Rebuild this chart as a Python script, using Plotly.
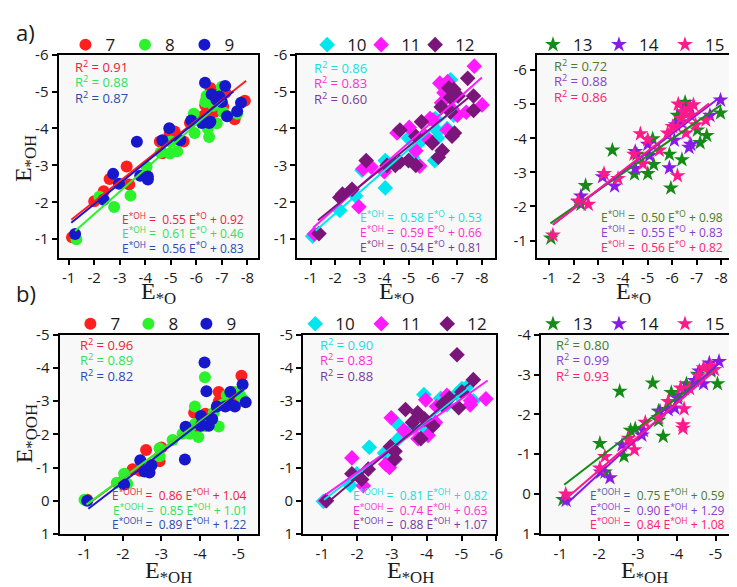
import plotly.graph_objects as go

# ---------------- data ----------------
# panel a-1 : E*OH vs E*O, groups 7, 8, 9
a7_x = [-1.13,-2.0,-2.37,-2.6,-3.27,-3.37,-4.57,-4.67,-4.96,-5.15,-5.5,-5.75,-5.9,-6.3,-6.35,-6.4,-6.55,-6.7,-6.94,-7.05,-7.14,-7.5,-7.9]
a7_y = [-1.05,-2.03,-2.3,-2.63,-2.97,-2.48,-3.65,-3.33,-3.87,-3.92,-3.65,-4.15,-4.28,-4.35,-4.63,-4.8,-5.1,-4.45,-4.97,-4.6,-4.97,-4.25,-4.75]
a8_x = [-1.3,-2.2,-2.78,-3.42,-4.05,-4.6,-4.96,-5.0,-5.25,-5.9,-5.93,-6.35,-6.4,-6.45,-6.5,-6.67,-6.8,-6.8,-7.0,-7.05,-7.6]
a8_y = [-1.0,-2.15,-1.87,-2.18,-2.96,-3.35,-3.32,-3.65,-3.38,-4.4,-3.88,-4.72,-4.88,-4.0,-3.77,-4.62,-4.14,-4.88,-5.13,-4.45,-4.4]
a9_x = [-1.25,-2.37,-2.74,-2.97,-3.67,-3.8,-4.1,-4.1,-4.67,-4.94,-5.37,-5.8,-6.22,-6.34,-6.5,-6.55,-6.6,-6.78,-6.9,-7.0,-7.13,-7.2,-7.6,-7.75]
a9_y = [-1.14,-2.07,-2.77,-2.5,-3.64,-2.72,-2.7,-2.62,-3.68,-4.01,-3.68,-4.22,-4.15,-5.24,-4.15,-4.18,-4.93,-4.78,-4.87,-4.72,-5.15,-4.33,-4.47,-4.7]
# panel a-2 : groups 10, 11, 12
a10_x = [-1.08,-2.19,-2.84,-3.1,-4.05,-4.05,-5.0,-5.16,-5.43,-6.07,-6.1,-6.18,-6.2,-6.58,-6.72,-6.85,-7.0]
a10_y = [-1.08,-1.78,-2.17,-2.87,-2.39,-3.13,-3.74,-3.22,-3.61,-3.13,-4.27,-3.74,-3.92,-4.0,-5.32,-4.36,-4.88]
a11_x = [-1.15,-2.97,-3.14,-3.47,-4.01,-4.53,-5.03,-5.3,-5.46,-5.7,-5.88,-6.0,-6.28,-6.35,-6.45,-6.58,-6.6,-6.78,-7.0,-7.36,-7.69,-8.01]
a11_y = [-1.14,-1.88,-2.91,-2.96,-2.83,-3.88,-4.03,-3.4,-2.98,-3.79,-4.27,-4.23,-5.23,-4.7,-4.97,-3.96,-5.27,-4.53,-4.36,-4.44,-5.69,-4.64]
a12_x = [-1.34,-2.19,-2.3,-2.69,-3.27,-4.12,-4.46,-4.65,-4.65,-5.0,-5.3,-5.3,-5.53,-5.97,-6.22,-6.34,-6.38,-6.65,-6.72,-6.72,-6.78,-6.85,-6.88,-7.03,-7.42,-7.66,-7.66]
a12_y = [-1.15,-2.13,-2.22,-2.35,-3.13,-3.0,-3.0,-3.96,-3.09,-3.13,-3.79,-3.0,-4.18,-3.61,-3.22,-4.58,-3.4,-5.1,-4.84,-4.45,-3.79,-5.06,-3.88,-4.88,-5.36,-4.88,-4.49]
# panel a-3 : groups 13, 14, 15
a13_x = [-1.07,-2.29,-2.48,-3.57,-4.47,-4.57,-5.01,-5.21,-5.25,-5.89,-5.95,-6.22,-6.4,-6.53,-7.03,-7.14,-7.41,-7.97]
a13_y = [-1.07,-2.06,-2.61,-3.65,-2.95,-3.53,-2.96,-3.98,-3.23,-3.53,-2.54,-4.67,-3.37,-5.05,-4.24,-3.87,-4.08,-4.74]
a14_x = [-2.18,-2.29,-3.17,-3.66,-4.5,-4.5,-5.01,-5.08,-5.89,-6.09,-6.15,-6.36,-6.42,-6.69,-6.73,-6.76,-7.54,-7.97]
a14_y = [-2.14,-2.3,-2.87,-2.6,-3.11,-3.61,-3.82,-3.49,-3.13,-3.94,-4.39,-4.48,-4.77,-3.73,-4.91,-3.82,-4.67,-5.12]
a15_x = [-1.15,-2.18,-2.59,-3.23,-3.8,-4.45,-4.71,-4.81,-5.01,-5.48,-5.82,-6.02,-6.22,-6.25,-6.36,-6.49,-6.56,-6.69,-6.76,-6.87,-6.96,-7.37]
a15_y = [-1.16,-2.16,-2.06,-2.96,-2.82,-3.53,-4.13,-3.25,-3.96,-3.65,-4.15,-4.34,-2.9,-5.0,-4.58,-4.77,-4.15,-4.86,-4.67,-4.98,-4.39,-4.53]
# panel b-1 : E*OOH vs E*OH, groups 7, 8, 9
b7_x = [-1.07,-2.0,-2.25,-2.44,-2.6,-2.95,-3.0,-3.63,-3.76,-3.85,-3.89,-4.14,-4.14,-4.21,-4.49,-4.49,-4.7,-4.83,-4.91,-5.08,-5.08]
b7_y = [-0.03,-0.58,-0.95,-0.9,-1.53,-1.19,-1.6,-2.21,-2.19,-2.65,-2.12,-2.62,-2.26,-2.5,-3.28,-2.99,-2.99,-3.28,-3.18,-3.77,-3.09]
b8_x = [-1.0,-1.84,-2.03,-2.11,-2.95,-2.95,-3.29,-3.55,-3.74,-3.87,-3.87,-3.96,-4.1,-4.13,-4.36,-4.49,-4.59,-4.7,-4.91,-5.04,-5.13]
b8_y = [-0.03,-0.54,-0.81,-0.51,-1.58,-1.34,-1.83,-2.02,-2.02,-2.84,-2.31,-1.92,-2.26,-3.72,-2.65,-2.24,-2.89,-3.18,-3.28,-3.18,-3.04]
b9_x = [-1.07,-2.03,-2.45,-2.56,-2.69,-2.74,-3.61,-3.63,-4.02,-4.03,-4.12,-4.17,-4.23,-4.32,-4.44,-4.66,-4.79,-4.81,-4.91,-5.11,-5.19]
b9_y = [0.0,-0.49,-1.22,-0.88,-0.85,-1.07,-1.24,-2.23,-2.26,-2.55,-4.17,-3.3,-2.26,-2.46,-2.84,-2.84,-3.28,-2.89,-2.84,-3.5,-2.97]
# panel b-2 : groups 10, 11, 12
b10_x = [-1.03,-1.8,-1.99,-2.35,-2.79,-3.09,-3.12,-3.19,-3.62,-3.92,-3.95,-4.4,-4.58,-4.87,-5.01,-5.15,-5.34]
b10_y = [0.02,-0.47,-0.81,-1.61,-1.44,-1.24,-2.36,-1.87,-2.21,-3.2,-2.17,-3.09,-2.89,-3.23,-3.38,-3.43,-3.01]
b11_x = [-1.09,-1.85,-2.18,-2.82,-2.93,-2.98,-3.34,-3.75,-3.97,-4.04,-4.25,-4.28,-4.49,-4.58,-5.25,-5.26,-5.7]
b11_y = [0.0,-1.29,-0.45,-1.1,-1.0,-2.5,-2.12,-1.87,-3.04,-1.97,-2.36,-2.84,-2.89,-3.18,-2.89,-3.01,-3.07]
b12_x = [-1.12,-1.85,-2.13,-2.32,-2.96,-3.08,-3.09,-3.39,-3.59,-3.74,-3.83,-3.94,-4.18,-4.44,-4.65,-4.87,-4.92,-5.01,-5.34]
b12_y = [0.0,-0.81,-0.64,-0.95,-1.63,-1.26,-1.49,-2.75,-2.36,-2.65,-1.87,-2.46,-2.26,-2.89,-3.09,-4.4,-2.8,-3.28,-3.65]
# panel b-3 : groups 13, 14, 15
b13_x = [-1.07,-2.02,-2.15,-2.53,-2.64,-2.81,-2.93,-3.38,-3.53,-3.53,-3.65,-3.86,-4.03,-4.25,-4.54,-4.88,-5.05]
b13_y = [0.14,-1.27,-0.55,-2.58,-0.95,-1.6,-1.64,-2.79,-2.08,-1.85,-1.45,-2.55,-2.48,-2.77,-3.01,-3.09,-2.77]
b14_x = [-1.15,-2.04,-2.28,-2.59,-3.1,-3.14,-3.57,-3.78,-3.95,-4.03,-4.2,-4.46,-4.58,-4.69,-4.84,-4.88,-5.09]
b14_y = [0.16,-0.55,-0.41,-1.23,-1.48,-1.6,-2.08,-2.12,-2.16,-2.4,-2.65,-2.85,-3.09,-2.77,-3.29,-3.13,-3.33]
b15_x = [-1.14,-2.02,-2.15,-2.76,-2.82,-2.91,-3.19,-3.53,-3.78,-4.1,-4.16,-4.16,-4.19,-4.33,-4.56,-4.69,-4.88,-4.97]
b15_y = [0.0,-0.65,-0.94,-1.4,-1.31,-1.11,-1.8,-1.92,-2.32,-2.66,-1.74,-1.65,-2.14,-2.65,-2.97,-3.17,-3.21,-3.13]

# fitted lines as drawn (slope, intercept, x start, x end)
a_slope = [0.55, 0.61, 0.56, 0.58, 0.59, 0.54, 0.50, 0.55, 0.56]
a_icept = [-0.92, -0.46, -0.83, -0.53, -0.66, -0.81, -0.98, -0.83, -0.82]
a_xstart = [-1.1, -1.25, -1.1, -1.2, -1.1, -1.3, -1.05, -1.15, -1.15]
a_xend = [-7.95, -7.1, -7.45, -7.0, -8.0, -7.7, -8.0, -7.95, -7.5]
b_slope = [0.86, 0.85, 0.89, 0.81, 0.74, 0.88, 0.75, 0.90, 0.84]
b_icept = [1.04, 1.01, 1.22, 0.82, 0.63, 1.07, 0.59, 1.29, 1.08]
b_xstart = [-1.1, -1.05, -1.1, -1.05, -1.1, -1.1, -1.1, -1.15, -1.1]
b_xend = [-5.1, -5.15, -5.15, -5.2, -5.75, -5.4, -5.0, -5.1, -5.0]

group_names = ["7", "8", "9", "10", "11", "12", "13", "14", "15"]
a_r2 = ["0.91", "0.88", "0.87", "0.86", "0.83", "0.60", "0.72", "0.88", "0.86"]
b_r2 = ["0.96", "0.89", "0.82", "0.90", "0.83", "0.88", "0.80", "0.99", "0.93"]

tick_x_top = [-1, -2, -3, -4, -5, -6, -7, -8]
tick_y_top = [-1, -2, -3, -4, -5, -6]
tick_x_b1 = [-1, -2, -3, -4, -5]
tick_x_b2 = [-1, -2, -3, -4, -5, -6]
tick_y_b12 = [1, 0, -1, -2, -3, -4, -5]
tick_y_b3 = [1, 0, -1, -2, -3, -4]

# ---------------- styles ----------------
marker_colors = ["#ff1f1f", "#2cf22c", "#1717cc", "#00e6ef", "#ff1aff", "#7a157a", "#168a16", "#8a1ae6", "#ff1a8c"]
text_colors = ["#f0203a", "#30e060", "#2a4cb0", "#18dede", "#ff30d0", "#7a3a9e", "#4a7a2e", "#8a40d0", "#ff2070"]
symbols = ["circle"] * 3 + ["diamond"] * 3 + ["star"] * 3
sizes = [12] * 3 + [12] * 3 + [12] * 3

W, H = 737, 587
boxes = [(51, 252, 37, 247), (292, 492, 37, 247), (534, 730, 37, 247),
         (52, 252, 327, 533), (298, 493, 327, 533), (538, 730, 327, 533)]
xranges = [[-0.6, -8.4], [-0.45, -8.55], [-0.5, -8.4], [-0.35, -5.5], [-0.45, -6.0], [-0.5, -5.4]]
yranges = [[-0.5, -6.0], [-0.5, -6.0], [-0.5, -6.45], [1, -5], [1, -5], [1, -4]]
xticks = [tick_x_top, tick_x_top, tick_x_top, tick_x_b1, tick_x_b2, tick_x_b1]
yticks = [tick_y_top, tick_y_top, tick_y_top, tick_y_b12, tick_y_b12, tick_y_b3]

a_xs = [a7_x, a8_x, a9_x, a10_x, a11_x, a12_x, a13_x, a14_x, a15_x]
a_ys = [a7_y, a8_y, a9_y, a10_y, a11_y, a12_y, a13_y, a14_y, a15_y]
b_xs = [b7_x, b8_x, b9_x, b10_x, b11_x, b12_x, b13_x, b14_x, b15_x]
b_ys = [b7_y, b8_y, b9_y, b10_y, b11_y, b12_y, b13_y, b14_y, b15_y]

fig = go.Figure()

def lab(v):
    return str(v).replace("\u2212", "-")

for p in range(6):
    row = 0 if p < 3 else 1
    col = p % 3
    ax = "" if p == 0 else str(p + 1)
    xs_all = a_xs if row == 0 else b_xs
    ys_all = a_ys if row == 0 else b_ys
    slopes = a_slope if row == 0 else b_slope
    icepts = a_icept if row == 0 else b_icept
    x0s = a_xstart if row == 0 else b_xstart
    x1s = a_xend if row == 0 else b_xend
    leg = "legend" + ax
    for k in range(3):
        g = col * 3 + k
        fig.add_trace(go.Scatter(
            x=xs_all[g], y=ys_all[g], mode="markers", name=group_names[g],
            marker=dict(symbol=symbols[g], size=sizes[g], color=marker_colors[g], line=dict(width=0)),
            xaxis="x" + ax, yaxis="y" + ax, legend=leg, showlegend=True))
    if p == 1:
        # empty spacer entry so that the tightly spaced last label is not clipped
        fig.add_trace(go.Scatter(x=[None], y=[None], mode="markers", name=" ",
                                 marker=dict(color="rgba(0,0,0,0)", size=1),
                                 xaxis="x" + ax, yaxis="y" + ax, legend=leg, showlegend=True, hoverinfo="skip"))
    for k in range(3):
        g = col * 3 + k
        lx = [x0s[g], x1s[g]]
        ly = [slopes[g] * v + icepts[g] for v in lx]
        fig.add_trace(go.Scatter(
            x=lx, y=ly, mode="lines", line=dict(color=marker_colors[g], width=2),
            xaxis="x" + ax, yaxis="y" + ax, showlegend=False, hoverinfo="skip"))

layout = dict(
    width=W, height=H, margin=dict(l=0, r=0, t=0, b=0),
    paper_bgcolor="white", plot_bgcolor="#f8f8f8",
    font=dict(family="Open Sans, Noto Sans, sans-serif", color="#1a1a1a"),
    showlegend=True,
)
# legend: (left x in px, spacing between entries in px)
leg_pos = [(58, 59.5), (302, 54), (530, 66), (63, 58), (290, 66), (530, 66)]
leg_y = [27, 27, 27, 316, 316, 316]
for p in range(6):
    ax = "" if p == 0 else str(p + 1)
    l, r, t, b = boxes[p]
    common = dict(showgrid=False, zeroline=False, showline=True, linecolor="black", linewidth=2,
                  mirror=True, ticks="outside", ticklen=5, tickwidth=1.5, tickcolor="black",
                  tickfont=dict(size=15, color="#1a1a1a"))
    layout["xaxis" + ax] = dict(common, domain=[l / W, r / W], range=xranges[p], anchor="y" + ax,
                                tickvals=xticks[p], ticktext=[lab(v) for v in xticks[p]])
    layout["yaxis" + ax] = dict(common, domain=[1 - b / H, 1 - t / H], range=yranges[p], anchor="x" + ax,
                                tickvals=yticks[p], ticktext=[lab(v) for v in yticks[p]])
    lx, sp = leg_pos[p]
    layout["legend" + ax] = dict(orientation="h", x=lx / W, y=1 - leg_y[p] / H, xanchor="left", yanchor="middle",
                                 xref="paper", yref="paper",
                                 entrywidth=sp - 45, entrywidthmode="pixels", bgcolor="rgba(0,0,0,0)",
                                 font=dict(size=17, color="#1a1a1a"), itemclick=False, tracegroupgap=0)
fig.update_layout(**layout)

ann = []
def add_text(x, y, text, color, size=13, anchor="left", family="Open Sans, Noto Sans, sans-serif", angle=0):
    ann.append(dict(x=x / W, y=1 - y / H, xref="paper", yref="paper", text=text, showarrow=False,
                    xanchor=anchor, yanchor="middle", textangle=angle,
                    font=dict(size=size, color=color, family=family)))

# R^2 labels
r2_pos = [(66, [49, 65, 81]), (307, [50, 66, 82]), (549, [48, 64, 80]),
          (71, [337, 353, 369]), (313, [337, 353, 369]), (551, [337, 353, 369])]
for p in range(6):
    row = 0 if p < 3 else 1
    col = p % 3
    x, ys = r2_pos[p]
    vals = a_r2 if row == 0 else b_r2
    for k in range(3):
        g = col * 3 + k
        add_text(x, ys[k], "R<sup>2</sup> = " + vals[g], text_colors[g], size=13)

# equation labels
eq_pos = [(240, [207, 222, 237]), (481, [205, 220, 236]), (724, [205, 220, 236]),
          (243, [493, 508, 523]), (487, [493, 508, 523]), (726, [493, 508, 523])]
for p in range(6):
    row = 0 if p < 3 else 1
    col = p % 3
    x, ys = eq_pos[p]
    for k in range(3):
        g = col * 3 + k
        if row == 0:
            lhs, rhs = "E<sup>*OH</sup> = ", "E<sup>*O</sup>"
            s, c = a_slope[g], -a_icept[g]
        else:
            lhs, rhs = "E<sup>*OOH</sup> = ", "E<sup>*OH</sup>"
            s, c = b_slope[g], b_icept[g]
        body = " %.2f %s + %.2f" % (s, rhs, c)
        if p == 5 and k == 0:
            txt = '<span style="color:#4a5aa0">' + lhs + '</span>' + body
        else:
            txt = lhs + body
        add_text(x, ys[k], txt, text_colors[g], size=12, anchor="right")

serif = "Liberation Serif, Times New Roman, serif"
add_text(18, 13, "a)", "#1a1a1a", size=22, anchor="center")
add_text(18, 284, "b)", "#1a1a1a", size=22, anchor="center")
add_text(0, 145, "E<sub>*OH</sub>", "#1a1a1a", size=24, anchor="left", family=serif, angle=-90)
add_text(1, 429, "E<sub>*OOH</sub>", "#1a1a1a", size=24, anchor="left", family=serif, angle=-90)
for cx in [152, 392, 632]:
    add_text(cx, 284, "E<sub>*O</sub>", "#1a1a1a", size=24, anchor="center", family=serif)
for cx in [162, 406, 643]:
    add_text(cx, 573, "E<sub>*OH</sub>", "#1a1a1a", size=24, anchor="center", family=serif)

fig.update_layout(annotations=ann)
fig.write_html("out.html")
